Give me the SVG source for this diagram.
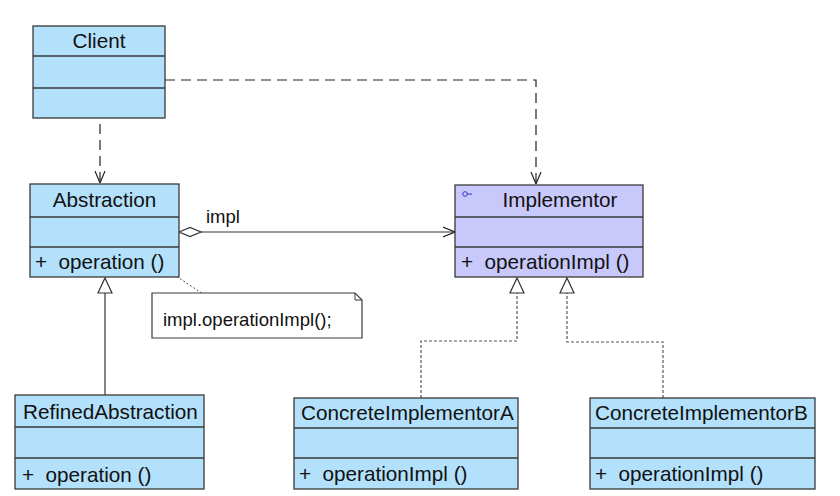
<svg xmlns="http://www.w3.org/2000/svg" width="840" height="496" viewBox="0 0 840 496">
<defs>
<style>
.box{fill:#b3e0fa;stroke:#3a3a3a;stroke-width:1.3}
.ibox{fill:#c8c8fa;stroke:#3a3a3a;stroke-width:1.3}
.div{stroke:#3a3a3a;stroke-width:1.3}
text{font-family:"Liberation Sans",Arial,sans-serif;font-size:20.7px;fill:#111}
.dep{fill:none;stroke:#222;stroke-width:1.2;stroke-dasharray:10,6}
.real{fill:none;stroke:#555;stroke-width:1.2;stroke-dasharray:3,2}
.solid{fill:none;stroke:#333;stroke-width:1.2}
</style>
<marker id="open" viewBox="0 0 12 12" refX="12" refY="6" markerWidth="12" markerHeight="12" markerUnits="userSpaceOnUse" orient="auto">
<path d="M0,1 L12,6 L0,11" fill="none" stroke="#222" stroke-width="1.2"/>
</marker>
</defs>

<g id="connectors">
<path class="dep" d="M165,80 H536 V184" marker-end="url(#open)"/>
<path class="dep" d="M100,124 V183" marker-end="url(#open)"/>
<path class="solid" d="M201,232 H455" marker-end="url(#open)"/>
<path d="M179,232 L190,227.5 L201,232 L190,236.5 Z" fill="#fff" stroke="#333" stroke-width="1.2"/>
<text x="206" y="223" style="font-size:18.5px">impl</text>
<path class="solid" d="M105,395 V293"/>
<path d="M105,278 L112,293 L98,293 Z" fill="#fff" stroke="#333" stroke-width="1.2"/>
<path class="real" d="M421,398 V341 H517 V293"/>
<path d="M517,278 L524,293 L510,293 Z" fill="#fff" stroke="#333" stroke-width="1.2"/>
<path class="real" d="M663,398 V342 H567 V293"/>
<path d="M567,278 L574,293 L560,293 Z" fill="#fff" stroke="#333" stroke-width="1.2"/>
<path d="M170,272 L203,294" fill="none" stroke="#555" stroke-width="1" stroke-dasharray="2,2"/>
</g>

<g id="Client">
<rect class="box" x="33" y="26" width="132" height="92"/>
<line class="div" x1="33" y1="56" x2="165" y2="56"/>
<line class="div" x1="33" y1="88" x2="165" y2="88"/>
<text x="99" y="48" text-anchor="middle">Client</text>
</g>

<g id="Abstraction">
<rect class="box" x="30" y="184" width="149" height="93"/>
<line class="div" x1="30" y1="217" x2="179" y2="217"/>
<line class="div" x1="30" y1="247" x2="179" y2="247"/>
<text x="104.5" y="207" text-anchor="middle">Abstraction</text>
<text x="35" y="269" xml:space="preserve">+  operation ()</text>
</g>

<g id="Note">
<path d="M152,293 H355 L362,300 V338 H152 Z" fill="#fff" stroke="#3a3a3a" stroke-width="1.2"/>
<path d="M355,293 V300 H362" fill="none" stroke="#3a3a3a" stroke-width="1"/>
<text x="163" y="326" style="font-size:18.5px">impl.operationImpl();</text>
</g>

<g id="Implementor">
<rect class="ibox" x="455" y="185" width="188" height="92"/>
<line class="div" x1="455" y1="217" x2="643" y2="217"/>
<line class="div" x1="455" y1="247" x2="643" y2="247"/>
<circle cx="465" cy="194" r="2.3" fill="none" stroke="#3333cc" stroke-width="1"/>
<line x1="467.3" y1="194" x2="472" y2="194" stroke="#3333cc" stroke-width="1"/>
<text x="560" y="207" text-anchor="middle">Implementor</text>
<text x="461" y="269" xml:space="preserve">+  operationImpl ()</text>
</g>

<g id="RefinedAbstraction">
<rect class="box" x="15" y="395" width="189" height="94"/>
<line class="div" x1="15" y1="427" x2="204" y2="427"/>
<line class="div" x1="15" y1="458" x2="204" y2="458"/>
<text x="23" y="419">RefinedAbstraction</text>
<text x="22" y="482" xml:space="preserve">+  operation ()</text>
</g>

<g id="ConcreteImplementorA">
<rect class="box" x="294" y="398" width="224" height="91"/>
<line class="div" x1="294" y1="428" x2="518" y2="428"/>
<line class="div" x1="294" y1="458" x2="518" y2="458"/>
<text x="301" y="420">ConcreteImplementorA</text>
<text x="299" y="481" xml:space="preserve">+  operationImpl ()</text>
</g>

<g id="ConcreteImplementorB">
<rect class="box" x="590" y="398" width="225" height="91"/>
<line class="div" x1="590" y1="428" x2="815" y2="428"/>
<line class="div" x1="590" y1="458" x2="815" y2="458"/>
<text x="595" y="420">ConcreteImplementorB</text>
<text x="595" y="481" xml:space="preserve">+  operationImpl ()</text>
</g>
</svg>
